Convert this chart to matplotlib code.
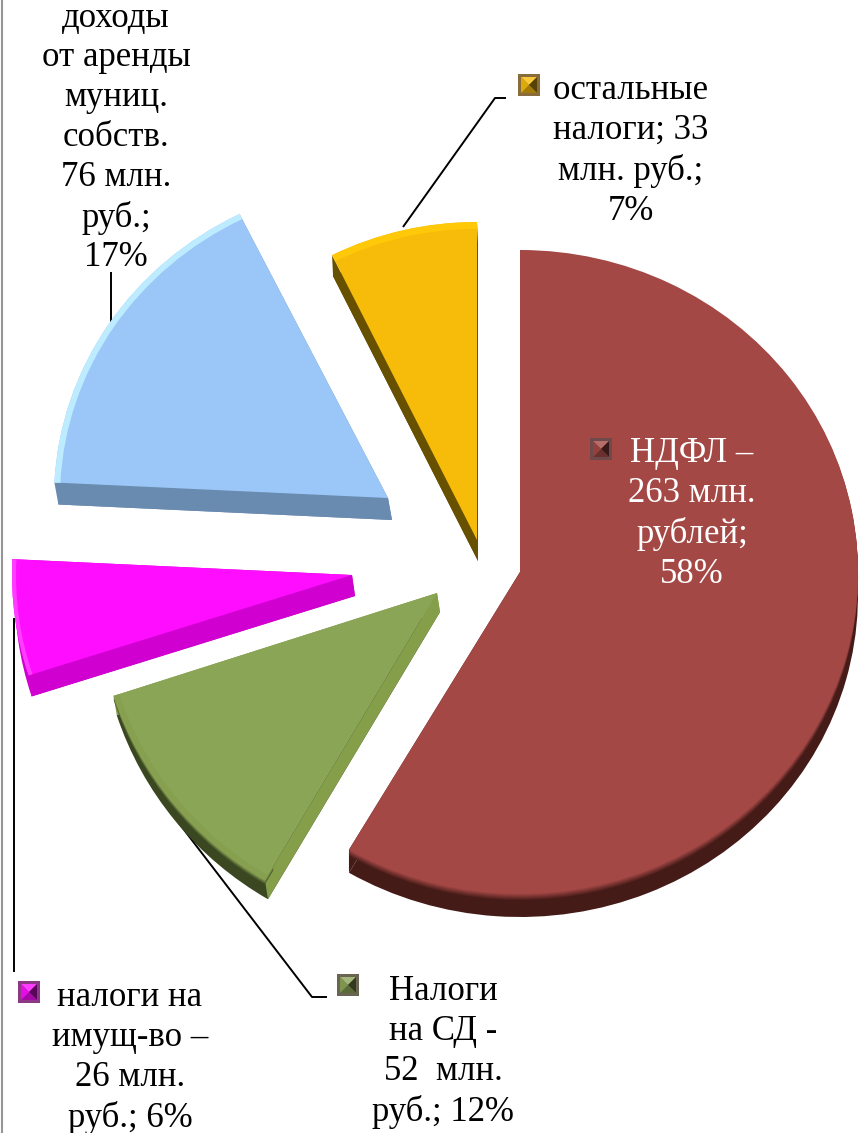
import numpy as np
import matplotlib
matplotlib.use('Agg')
import matplotlib.pyplot as plt
from matplotlib.patches import Wedge, Polygon, Rectangle
from matplotlib.transforms import Affine2D
from matplotlib.colors import to_rgb

plt.rcParams['font.family'] = ['Liberation Serif', 'DejaVu Serif']

# slices, clockwise from 12 o'clock
values = [263, 52, 26, 76, 33]
face_colors = ['#A44845', '#8BA557', '#FF0DFF', '#9BC7F8', '#F7BC0A']
labels = [
    'НДФЛ –\n263 млн.\nрублей;\n58%',
    'Налоги\nна СД -\n52  млн.\nруб.; 12%',
    'налоги на\nимущ-во –\n26 млн.\nруб.; 6%',
    'доходы\nот аренды\nмуниц.\nсобств.\n76 млн.\nруб.;\n17%',
    'остальные\nналоги; 33\nмлн. руб.;\n7%',
]

# drawing layout, in image pixels
apex = [(520, 572), (437, 593), (352, 575), (388, 498), (477, 540)]
radii = [(338, 322), (340, 333), (340, 325), (334, 317), (326, 318)]
depth = [(0, 23), (3, 19), (3, 21), (4, 22), (1, 21)]
radial_side = ['#451B18', '#849E4A', '#D000D0', '#6A8BB0', '#675000']
arc_side = ['#451B18', '#3A4720', '#D000D0', '#6A8BB0', '#675000']
rim_color = [None, '#87A050', '#FF3CFF', '#BDEBFF', '#FFC90A']
rim_px = [0, 6, 4, 6, 7]
blur_px = [6, 4, 0, 0, 0]
label_xy = [(692, 514), (443, 1052), (130, 1058), (116, 138), (631, 151)]
label_color = ['white', 'black', 'black', 'black', 'black']
key_xy = [(601, 449), (348, 985), (29, 992), None, (529, 85)]
leaders = [
    [(175, 818), (312, 997), (327, 997)],
    [(14, 618), (14, 972)],
    [(111, 272), (111, 322)],
    [(403, 227), (495, 98), (506, 98)],
]


def mix(c1, c2, t):
    a, b = np.array(to_rgb(c1)), np.array(to_rgb(c2))
    return tuple(a + (b - a) * t)


def draw_key(ax, x, y, col, s=11):
    ax.add_patch(Rectangle((x - s, y - s), 2 * s, 2 * s, fc=mix(col, '#5a4a50', 0.7), ec='none', zorder=6))
    i = s - 3
    corners = [(x - i, y - i), (x + i, y - i), (x + i, y + i), (x - i, y + i)]
    shades = [mix(col, 'white', 0.2), mix(col, 'black', 0.65), mix(col, 'black', 0.35), mix(col, 'black', 0.1)]
    for k, shade in enumerate(shades):
        ax.add_patch(Polygon([corners[k], corners[(k + 1) % 4], (x, y)], fc=shade, ec='none', zorder=7))


fig = plt.figure(figsize=(8.66, 11.33), dpi=100)
ax = fig.add_axes([0, 0, 1, 1])

wedges, _ = ax.pie(values, startangle=90, counterclock=False, colors=face_colors)

ax.set_aspect('auto')
ax.set_xlim(0, 866)
ax.set_ylim(1133, 0)
ax.axis('off')

for i, w in enumerate(wedges):
    (cx, cy), (rx, ry), (dx, dy) = apex[i], radii[i], depth[i]
    t1, t2 = w.theta1, w.theta2
    tr = Affine2D().scale(rx, -ry).translate(cx, cy) + ax.transData

    # extruded side: shifted copy plus a quad along each straight edge
    shifted = Affine2D().scale(rx, -ry).translate(cx + dx, cy + dy) + ax.transData
    ax.add_patch(Wedge((0, 0), 1, t1, t2, fc=arc_side[i], ec='none', transform=shifted, zorder=2))
    for t in (t1, t2):
        tip = (cx + rx * np.cos(np.radians(t)), cy - ry * np.sin(np.radians(t)))
        quad = [(cx, cy), tip, (tip[0] + dx, tip[1] + dy), (cx + dx, cy + dy)]
        ax.add_patch(Polygon(quad, fc=radial_side[i], ec='none', zorder=2.5))

    # soft edge between side and top, on the curved edge only
    for k in range(blur_px[i], 0, -1):
        soft = Affine2D().scale(rx, -ry).translate(cx, cy + k) + ax.transData
        ax.add_patch(Wedge((0, 0), 1, t1, t2, width=0.05, ec='none', transform=soft, zorder=2.6,
                           fc=mix(face_colors[i], arc_side[i], k / (blur_px[i] + 1))))

    w.set_transform(tr)
    w.set_zorder(3)
    w.set_edgecolor('none')

    if rim_color[i]:
        ax.add_patch(Wedge((0, 0), 1, t1, t2, width=rim_px[i] / rx, fc=rim_color[i], ec='none',
                           transform=tr, zorder=3.5))

    x, y = label_xy[i]
    ax.text(x, y, labels[i], color=label_color[i], fontsize=25, ha='center', va='center',
            linespacing=1.27, zorder=8)
    if key_xy[i]:
        draw_key(ax, key_xy[i][0], key_xy[i][1], face_colors[i])

for line in leaders:
    xs, ys = zip(*line)
    ax.plot(xs, ys, color='black', lw=1.4, zorder=1, solid_capstyle='butt')

# frame edge on the left
ax.plot([2, 2], [0, 1133], color='#969696', lw=1.5, zorder=1)

plt.savefig('out.png', dpi=100)
